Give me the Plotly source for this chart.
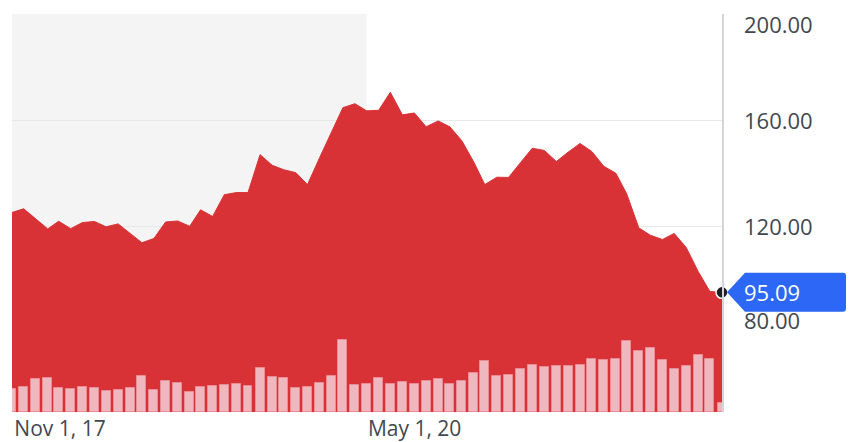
import plotly.graph_objects as go
import pandas as pd

# ---- data ----
months = pd.date_range("2017-11-01", periods=61, freq="MS")

price = [125.2, 126.6, 122.8, 119.0, 121.9, 119.1, 121.4, 121.8, 119.8, 120.9,
         117.3, 113.8, 115.4, 121.6, 122.0, 120.0, 126.2, 123.7, 131.9, 132.7,
         132.7, 147.0, 143.0, 141.3, 140.2, 135.7, 145.8, 155.9, 164.7, 166.2,
         163.5, 163.7, 170.5, 162.0, 162.7, 157.5, 159.7, 157.5, 152.2, 144.1,
         135.7, 138.5, 138.4, 144.0, 149.4, 148.6, 144.4, 147.9, 151.2, 148.2,
         142.6, 140.0, 132.2, 119.4, 116.6, 115.0, 117.3, 112.0, 102.9, 95.4,
         95.09]

volume = [22.7, 25.3, 33.0, 34.0, 24.3, 23.0, 25.3, 23.7, 21.0, 21.7,
          23.7, 36.0, 22.0, 31.0, 28.7, 20.3, 25.0, 26.3, 27.0, 28.0,
          26.3, 44.3, 35.3, 33.7, 23.7, 25.0, 29.3, 36.0, 72.0, 27.3,
          28.0, 34.3, 28.3, 29.7, 28.3, 31.3, 32.7, 28.0, 30.7, 39.3,
          51.3, 36.0, 37.3, 43.0, 47.0, 45.0, 46.3, 46.0, 47.0, 52.7,
          52.0, 52.7, 70.7, 60.7, 64.0, 52.3, 43.3, 45.7, 56.7, 53.0,
          8.7]

y_ticks = [80, 120, 160, 200]
y_tick_labels = ["80.00", "120.00", "160.00", "200.00"]
x_ticks = ["2017-11-01", "2020-05-01"]
x_tick_labels = ["Nov 1, 17", "May 1, 20"]
shade_end = "2020-05-01"
last_label = "95.09"

# ---- styles ----
RED = "#d93236"
PINK = "#efb8be"
PINK_EDGE = "#e98c96"
BLUE = "#2c67f6"
TXT = "#42484f"
FONT = "Open Sans"
DAY_MS = 86400000

fig = go.Figure()
fig.add_trace(go.Scatter(
    x=months, y=price, mode="lines",
    line=dict(color=RED, width=1), fill="tozeroy", fillcolor=RED,
    hoverinfo="skip", showlegend=False))
fig.add_trace(go.Bar(
    x=months, y=volume, yaxis="y2", width=23 * DAY_MS,
    marker=dict(color=PINK, line=dict(color=PINK_EDGE, width=1)),
    hoverinfo="skip", showlegend=False))
fig.add_trace(go.Scatter(
    x=[months[-1]], y=[price[-1]], mode="markers", cliponaxis=False,
    marker=dict(color="#1f1f1f", size=12, line=dict(color="white", width=1.5)),
    hoverinfo="skip", showlegend=False))

shapes = [
    dict(type="rect", xref="x", yref="paper", x0=months[0], x1=shade_end,
         y0=0, y1=1, fillcolor="#f4f4f4", line=dict(width=0), layer="below"),
    dict(type="path", xref="paper", yref="y", xsizemode="pixel", ysizemode="pixel",
         xanchor=1, yanchor=price[-1],
         path="M 5,0 L 23,19.5 L 121,19.5 Q 124,19.5 124,16.5 L 124,-16.5 "
              "Q 124,-19.5 121,-19.5 L 23,-19.5 Z",
         fillcolor=BLUE, line=dict(width=0), layer="above"),
]

label_shift = {80: 12, 120: 0, 160: 0, 200: -10}
annotations = []
for v, t in zip(y_ticks, y_tick_labels):
    annotations.append(dict(
        x=1, xref="paper", y=v, yref="y", text=t, showarrow=False,
        xanchor="left", xshift=20, yshift=label_shift[v],
        font=dict(family=FONT, size=22, color=TXT)))
annotations.append(dict(
    x=1, xref="paper", y=price[-1], yref="y", text=last_label, showarrow=False,
    xanchor="left", xshift=20, font=dict(family=FONT, size=22, color="white")))

fig.update_layout(
    width=858, height=442,
    margin=dict(l=4, r=144, t=6, b=38),
    paper_bgcolor="white", plot_bgcolor="white",
    showlegend=False, bargap=0,
    shapes=shapes, annotations=annotations,
    xaxis=dict(
        type="date", range=[months[0], months[-1]],
        tickvals=x_ticks, ticktext=x_tick_labels, automargin=False,
        showgrid=False, zeroline=False, showline=False, ticks="",
        ticklabelshift=48, ticklabelstandoff=2,
        tickfont=dict(family=FONT, size=21, color=TXT)),
    yaxis=dict(
        side="right", range=[50, 200], tickvals=y_ticks, automargin=False,
        showticklabels=False, showgrid=True, gridcolor="#e8e8e8", gridwidth=1.3,
        zeroline=False, showline=True, linecolor="#d4d4de", linewidth=1.5,
        ticks=""),
    yaxis2=dict(overlaying="y", range=[0, 398], visible=False),
)

fig.write_html("out.html")
